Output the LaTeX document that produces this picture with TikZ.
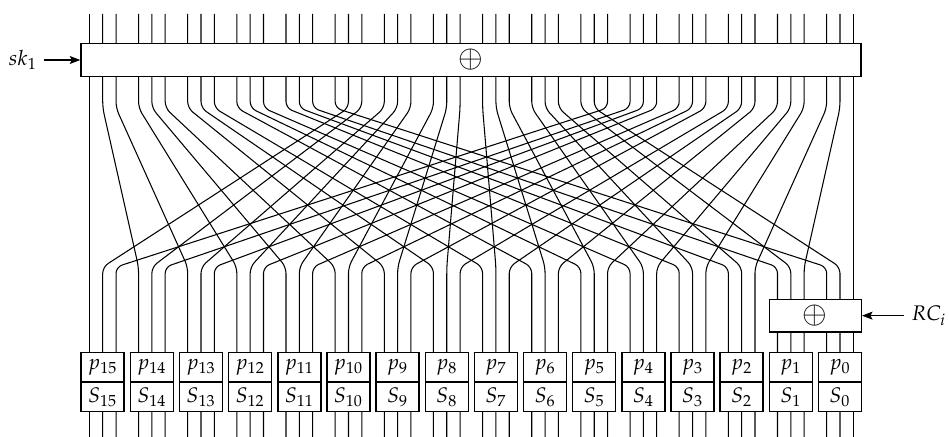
\documentclass[tikz,border=0pt]{standalone}
\usepackage{mathpazo}
\usepackage{tikz}
\usetikzlibrary{arrows.meta,positioning}

\begin{document}
\begin{tikzpicture}[
  wire/.style={line width=0.5pt, rounded corners=3pt},
  xorbox/.style={rectangle, draw, fill=white, line width=0.7pt,
    inner sep=0pt, font=\Large},
  pbox/.style={rectangle, draw, fill=white, line width=0.7pt,
    minimum width=0.717cm, minimum height=0.493cm, inner sep=0pt},
  arr/.style={-{Stealth[length=5pt,width=3.8pt,inset=1pt]}, line width=0.5pt}
]
\useasboundingbox (0,0) rectangle (15.817,7.283);
% bit permutation: bit i goes to 3i mod 47, bit 47 stays
\foreach \i in {0,...,47} {
  \pgfmathtruncatemacro\o{\i==47 ? 47 : mod(3*\i,47)}
  \pgfmathsetmacro\xi{14.0-0.8192*floor(\i/3)+0.222*(1-mod(\i,3))}
  \pgfmathsetmacro\xo{14.0-0.8192*floor(\o/3)+0.222*(1-mod(\o,3))}
  \draw[wire] (\xi,7.05) -- (\xi,5.483) -- (\xo,2.833) -- (\xo,0);
}
\node[xorbox, minimum width=13.0cm, minimum height=0.557cm] (xorA) at (7.85,6.283) {$\oplus$};
\node[xorbox, minimum width=1.533cm, minimum height=0.545cm] (xorB) at (13.588,2.022) {$\oplus$};
\node (sk) at (0.383,6.283) {$sk_1$};
\node (rc) at (15.48,2.022) {$RC_i$};
\draw[arr] (sk.east) -- (xorA.west);
\draw[arr] (rc.west) -- (xorB.east);
\foreach \g in {0,...,15} {
  \node[pbox] (p\g) at ({14.0-0.8192*\g},1.158) {$p_{\g}$};
  \node[pbox] (s\g) at ({14.0-0.8192*\g},0.667) {$S_{\g}$};
}
\end{tikzpicture}
\end{document}
